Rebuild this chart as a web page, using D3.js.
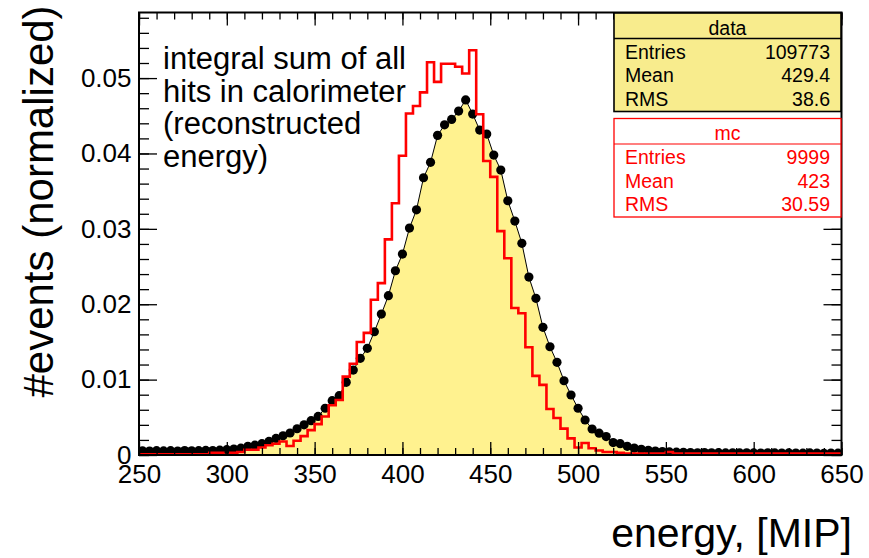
<!DOCTYPE html>
<html>
<head>
<meta charset="utf-8">
<script src="https://cdn.jsdelivr.net/npm/d3@7/dist/d3.min.js"></script>
<style>
  html, body { margin: 0; padding: 0; background: #ffffff; }
  svg { display: block; font-family: "Liberation Sans", Arial, Helvetica, sans-serif; }
</style>
</head>
<body>
<svg id="chart" width="869" height="558"></svg>
<script>
// Energy binning: 4 MIP wide bins between 250 and 650
const binEdges = d3.range(250, 651, 4);
const binCenters = d3.range(252, 650, 4);

// Measured data, normalized to unit area (one value per bin)
const dataValues = [
  0.00055, 0.00052, 0.00058, 0.00054, 0.00057, 0.00053, 0.00060, 0.00056, 0.00058, 0.00061,
  0.00060, 0.00064, 0.00070, 0.00078, 0.00090, 0.00115, 0.00130, 0.00150, 0.00180, 0.00220,
  0.00255, 0.00292, 0.00348, 0.00400, 0.00455, 0.00512, 0.00620, 0.00720, 0.00787, 0.00964,
  0.01127, 0.01282, 0.01415, 0.01635, 0.01870, 0.02113, 0.02444, 0.02666, 0.03010, 0.03253,
  0.03678, 0.03882, 0.04240, 0.04380, 0.04452, 0.04562, 0.04710, 0.04523, 0.04310, 0.04257,
  0.03979, 0.03780, 0.03373, 0.03103, 0.02808, 0.02360, 0.02078, 0.01694, 0.01436, 0.01230,
  0.00985, 0.00796, 0.00620, 0.00464, 0.00345, 0.00290, 0.00245, 0.00165, 0.00150, 0.00115,
  0.00092, 0.00075, 0.00062, 0.00053, 0.00046, 0.00041, 0.00038, 0.00035, 0.00032, 0.00030,
  0.00033, 0.00029, 0.00031, 0.00028, 0.00030, 0.00027, 0.00029, 0.00028, 0.00026, 0.00029,
  0.00027, 0.00025, 0.00028, 0.00026, 0.00024, 0.00027, 0.00025, 0.00023, 0.00026, 0.00024
];

// Monte Carlo simulation, normalized to unit area (one value per bin)
const mcValues = [
  0.0001, 0.0001, 0.0001, 0.0001, 0.0001, 0.0001, 0.0001, 0.0001, 0.0001, 0.0001,
  0.0003, 0.0003, 0.0000, 0.0003, 0.0004, 0.0007, 0.0007, 0.0010, 0.0013, 0.0015,
  0.0018, 0.0012, 0.0019, 0.0025, 0.0033, 0.0041, 0.0051, 0.0066, 0.0073, 0.0104,
  0.0121, 0.0150, 0.0162, 0.0206, 0.0228, 0.0286, 0.0334, 0.0397, 0.0453, 0.0463,
  0.0481, 0.0521, 0.0495, 0.0519, 0.0519, 0.0515, 0.0506, 0.0537, 0.0452, 0.0390,
  0.0369, 0.0297, 0.0261, 0.0195, 0.0188, 0.0143, 0.0105, 0.0093, 0.0061, 0.0049,
  0.0035, 0.0022, 0.0010, 0.0016, 0.0009, 0.0006, 0.0004, 0.0004, 0.0003, 0.0002,
  0.0002, 0.0002, 0.0002, 0.0002, 0.0002, 0.0004, 0.0002, 0.0002, 0.0002, 0.0002,
  0.0002, 0.0002, 0.0002, 0.0002, 0.0002, 0.0002, 0.0002, 0.0002, 0.0002, 0.0002,
  0.0002, 0.0002, 0.0002, 0.0002, 0.0002, 0.0002, 0.0002, 0.0002, 0.0002, 0.0002
];

// Axis ticks and labels
const xMajorTicks = [250, 300, 350, 400, 450, 500, 550, 600, 650];
const xMinorTicks = d3.range(250, 651, 10);
const yMajorTicks = [0, 0.01, 0.02, 0.03, 0.04, 0.05];
const yTickLabels = ["0", "0.01", "0.02", "0.03", "0.04", "0.05"];
const yMinorTicks = d3.range(0, 0.0587, 0.002);

// Statistics boxes
const statNames = ["Entries", "Mean", "RMS"];
const dataStats = ["109773", "429.4", "38.6"];
const mcStats = ["9999", "423", "30.59"];

const noteLines = ["integral sum of all", "hits in calorimeter", "(reconstructed", "energy)"];

const COLOR_FILL = "#fff28f";
const COLOR_BOX = "#f8ec8d";
const COLOR_MC = "#ff0000";

const svg = d3.select("#chart");
const frame = { left: 139, right: 841.5, top: 12.5, bottom: 455 };

const x = d3.scaleLinear().domain([250, 650]).range([frame.left, frame.right]);
const y = d3.scaleLinear().domain([0, 0.0587]).range([frame.bottom, frame.top]);

svg.append("defs").append("clipPath").attr("id", "plotClip")
  .append("rect")
  .attr("x", frame.left).attr("y", frame.top)
  .attr("width", frame.right - frame.left).attr("height", frame.bottom - frame.top);

const plot = svg.append("g").attr("clip-path", "url(#plotClip)");

// Data: filled area under the polyline through bin centres
const dataPts = binCenters.map((c, i) => ({ c, v: dataValues[i] }));
plot.append("path")
  .datum(dataPts)
  .attr("fill", COLOR_FILL)
  .attr("d", d3.area().x(d => x(d.c)).y0(y(0)).y1(d => y(d.v)));

plot.append("path")
  .datum(dataPts)
  .attr("fill", "none")
  .attr("stroke", "#000")
  .attr("stroke-width", 1)
  .attr("d", d3.line().x(d => x(d.c)).y(d => y(d.v)));

plot.append("g").selectAll("circle")
  .data(dataPts)
  .join("circle")
  .attr("cx", d => x(d.c))
  .attr("cy", d => y(d.v))
  .attr("r", 4.6)
  .attr("fill", "#000");

// MC: step outline over the bins
const mcSteps = [];
mcValues.forEach((v, i) => {
  mcSteps.push([binEdges[i], v]);
  mcSteps.push([binEdges[i + 1], v]);
});
plot.append("path")
  .datum(mcSteps)
  .attr("fill", "none")
  .attr("stroke", COLOR_MC)
  .attr("stroke-width", 2.6)
  .attr("stroke-linejoin", "miter")
  .attr("d", d3.line().x(d => x(d[0])).y(d => y(d[1])));

// Axes (ticks drawn inward on all four sides)
function styleAxis(g) {
  g.select(".domain").remove();
  g.selectAll("line").attr("stroke", "#000").attr("stroke-width", 1.3);
  g.selectAll("text").attr("fill", "#000").attr("font-size", 26);
}

svg.append("g").attr("transform", `translate(0,${frame.bottom})`)
  .call(d3.axisBottom(x).tickValues(xMinorTicks).tickSize(-7).tickFormat(""))
  .call(styleAxis);
svg.append("g").attr("transform", `translate(0,${frame.bottom})`)
  .call(d3.axisBottom(x).tickValues(xMajorTicks).tickSize(-13).tickPadding(9.5).tickFormat(d3.format("d")))
  .call(styleAxis);

svg.append("g").attr("transform", `translate(0,${frame.top})`)
  .call(d3.axisTop(x).tickValues(xMinorTicks).tickSize(-7).tickFormat(""))
  .call(styleAxis);
svg.append("g").attr("transform", `translate(0,${frame.top})`)
  .call(d3.axisTop(x).tickValues(xMajorTicks).tickSize(-13).tickFormat(""))
  .call(styleAxis);

svg.append("g").attr("transform", `translate(${frame.left},0)`)
  .call(d3.axisLeft(y).tickValues(yMinorTicks).tickSize(-10).tickFormat(""))
  .call(styleAxis);
svg.append("g").attr("transform", `translate(${frame.left},0)`)
  .call(d3.axisLeft(y).tickValues(yMajorTicks).tickSize(-18).tickPadding(7.5)
    .tickFormat((d, i) => yTickLabels[i]))
  .call(styleAxis);

svg.append("g").attr("transform", `translate(${frame.right},0)`)
  .call(d3.axisRight(y).tickValues(yMinorTicks).tickSize(-10).tickFormat(""))
  .call(styleAxis);
svg.append("g").attr("transform", `translate(${frame.right},0)`)
  .call(d3.axisRight(y).tickValues(yMajorTicks).tickSize(-18).tickFormat(""))
  .call(styleAxis);

// Frame
svg.append("rect")
  .attr("x", frame.left).attr("y", frame.top)
  .attr("width", frame.right - frame.left).attr("height", frame.bottom - frame.top)
  .attr("fill", "none").attr("stroke", "#000").attr("stroke-width", 2);

// Axis titles
svg.append("text")
  .attr("x", 852).attr("y", 547)
  .attr("text-anchor", "end")
  .attr("font-size", 41)
  .attr("fill", "#000")
  .text("energy, [MIP]");

svg.append("text")
  .attr("transform", "translate(53,201.5) rotate(-90)")
  .attr("text-anchor", "middle")
  .attr("font-size", 42)
  .attr("fill", "#000")
  .text("#events (normalized)");

// Annotation
svg.append("text")
  .attr("font-size", 31)
  .attr("fill", "#000")
  .selectAll("tspan")
  .data(noteLines)
  .join("tspan")
  .attr("x", 163)
  .attr("y", (d, i) => 69 + i * 32.7)
  .text(d => d);

// Statistics boxes
function statBox(top, title, values, color, fill, strokeW) {
  const left = 614, right = 841, rowH = 23.6, height = 98.5, headH = 25.5;
  const g = svg.append("g");
  g.append("rect")
    .attr("x", left).attr("y", top)
    .attr("width", right - left).attr("height", height)
    .attr("fill", fill).attr("stroke", color).attr("stroke-width", strokeW);
  g.append("line")
    .attr("x1", left).attr("x2", right)
    .attr("y1", top + headH).attr("y2", top + headH)
    .attr("stroke", color).attr("stroke-width", strokeW * 0.8);
  g.append("text")
    .attr("x", (left + right) / 2).attr("y", top + 21.5)
    .attr("text-anchor", "middle").attr("font-size", 19.5).attr("fill", color)
    .text(title);
  statNames.forEach((name, i) => {
    const by = top + 45.5 + i * rowH;
    g.append("text").attr("x", 625).attr("y", by)
      .attr("font-size", 19.5).attr("fill", color).text(name);
    g.append("text").attr("x", 830).attr("y", by)
      .attr("text-anchor", "end").attr("font-size", 19.5).attr("fill", color).text(values[i]);
  });
}
statBox(13, "data", dataStats, "#000", COLOR_BOX, 1.6);
statBox(118.5, "mc", mcStats, COLOR_MC, "#ffffff", 1.3);
</script>
</body>
</html>
